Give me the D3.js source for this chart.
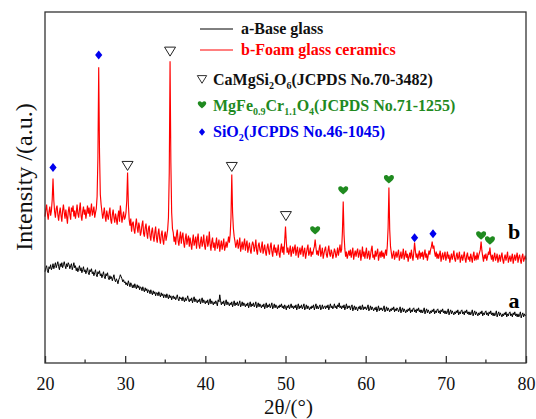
<!doctype html>
<html>
<head>
<meta charset="utf-8">
<title>XRD patterns</title>
<script src="https://cdn.jsdelivr.net/npm/d3@7"></script>
<style>
  body { margin: 0; background: #fff; }
  text { font-family: "Liberation Serif", "Times New Roman", serif; }
</style>
</head>
<body>
<script>
// scan settings: 2theta from 20 to 80, step 0.1
var startAngle = 20, stepAngle = 0.1;

// a - base glass (one row per degree)
var baseGlass = [
  91,95,97,92,90,96,94,98,93,95,
  99,94,97,100,95,98,101,96,93,99,
  96,100,95,98,101,97,94,99,96,100,
  98,94,97,99,93,96,100,95,97,92,
  95,91,94,97,92,95,90,93,96,91,
  93,89,92,95,90,88,93,91,94,89,
  91,87,90,93,88,86,91,89,92,87,
  89,85,88,91,86,84,89,87,90,85,
  83,87,84,86,82,85,88,83,81,84,
  82,79,83,85,88,86,84,81,83,80,
  81,78,80,77,82,79,76,80,78,75,
  78,75,79,76,74,78,75,77,73,76,
  75,72,76,73,71,75,72,74,70,73,
  72,69,73,70,68,72,69,71,67,70,
  70,67,71,68,66,70,67,69,65,68,
  68,65,69,66,64,68,65,67,63,66,
  67,64,66,63,65,68,64,62,66,64,
  65,62,66,63,61,65,62,64,67,63,
  61,64,62,65,60,63,66,61,64,62,
  60,63,61,64,59,62,65,60,63,61,
  59,62,60,63,58,61,64,59,62,60,
  58,61,59,62,60,57,63,61,68,62,
  58,61,59,62,57,60,63,58,61,59,
  57,60,58,61,56,59,62,57,60,58,
  61,57,59,62,56,58,61,57,60,58,
  56,59,57,60,55,58,61,56,59,57,
  60,56,58,61,55,57,60,56,59,57,
  55,58,56,59,54,57,60,55,58,56,
  59,55,57,60,54,56,59,55,58,56,
  54,57,55,58,56,59,55,57,54,58,
  56,53,57,55,58,54,56,59,55,57,
  54,57,55,58,53,56,59,54,57,55,
  58,54,56,59,53,55,58,54,57,55,
  53,56,54,57,55,58,53,56,59,54,
  57,54,56,58,53,55,58,54,56,57,
  54,57,55,58,53,56,59,55,57,54,
  56,59,55,57,54,58,56,60,55,57,
  54,57,55,58,53,56,59,54,57,55,
  57,53,56,58,52,55,57,53,56,54,
  52,56,54,57,53,55,58,53,56,54,
  56,53,55,58,52,54,57,53,56,54,
  52,55,53,56,51,54,57,52,55,53,
  55,52,54,57,51,53,56,52,55,53,
  51,54,52,55,53,56,51,54,52,55,
  54,51,53,56,50,53,55,51,54,52,
  50,53,51,54,52,55,50,53,51,54,
  55,51,53,50,54,52,55,51,53,50,
  53,50,52,55,49,52,54,50,53,51,
  49,52,50,53,51,54,49,52,50,53,
  54,50,52,49,53,51,54,50,52,49,
  52,49,51,54,48,51,53,49,52,50,
  48,51,49,52,50,53,48,51,49,52,
  53,49,51,48,52,50,53,49,51,48,
  51,48,50,53,47,50,52,48,51,49,
  47,50,48,51,49,52,47,50,48,51,
  52,48,50,47,51,49,52,48,50,47,
  50,47,49,52,46,49,51,47,50,48,
  46,49,47,50,48,51,46,49,47,50,
  51,47,49,46,50,48,51,47,49,46,
  49,46,48,51,45,48,50,46,49,47,
  48
];

// b - foam glass ceramics
var foamCeramics = [
  146,153,158,149,143,151,156,147,152,163,
  184,162,151,145,154,157,148,142,150,155,
  147,141,152,158,150,144,153,146,139,151,
  156,148,143,155,151,157,146,152,144,150,
  158,149,145,153,160,147,142,151,156,148,
  153,144,150,157,149,155,146,152,159,147,
  151,156,145,150,154,166,205,295,210,168,
  158,151,144,149,155,146,141,152,147,143,
  150,155,143,139,148,153,145,140,149,144,
  138,147,152,141,157,149,140,146,151,143,
  145,150,162,190,158,143,137,144,131,139,
  141,133,129,138,144,135,130,140,136,127,
  131,138,142,129,126,135,139,130,124,134,
  137,127,122,131,135,126,121,130,136,125,
  120,129,134,124,119,128,132,123,118,127,
  131,122,127,133,145,190,301,200,150,134,
  130,121,126,118,128,133,122,117,125,131,
  119,126,130,120,115,124,129,118,123,127,
  116,125,119,113,122,128,117,121,126,114,
  123,129,118,114,121,126,116,120,128,117,
  113,122,127,116,120,131,118,112,121,125,
  115,120,112,119,125,114,118,123,111,117,
  122,113,118,124,112,116,121,115,120,126,
  120,128,145,188,150,134,126,121,115,119,
  123,114,118,125,111,116,121,113,119,124,
  112,118,122,110,115,120,113,109,117,121,
  118,111,116,123,112,108,117,120,113,110,
  116,121,109,113,118,111,107,115,119,112,
  108,116,120,111,106,114,118,110,115,107,
  112,118,109,105,114,119,110,116,108,122,
  136,121,110,115,108,112,117,106,111,116,
  109,114,118,107,112,116,105,110,115,108,
  113,117,106,111,115,104,109,114,118,107,
  110,115,106,111,108,113,116,123,115,108,
  112,107,114,118,106,110,115,104,109,113,
  116,108,105,112,117,109,106,113,110,104,
  108,114,111,105,109,115,107,112,118,110,
  113,131,161,128,114,106,111,104,108,112,
  107,113,105,110,115,103,108,112,106,111,
  114,105,109,113,102,108,116,106,111,104,
  110,115,104,108,112,103,107,113,117,105,
  108,103,112,106,110,114,102,107,111,105,
  112,106,110,104,109,113,107,117,135,175,
  133,116,110,104,108,112,103,107,111,105,
  109,113,102,106,111,104,108,114,103,107,
  112,105,109,101,106,110,104,113,107,102,
  110,120,112,105,109,103,108,112,104,110,
  106,111,103,108,113,105,109,102,107,112,
  108,113,116,121,114,117,110,106,111,104,
  109,104,108,112,101,106,110,103,107,111,
  102,106,111,104,108,100,105,109,103,107,
  112,104,101,107,110,103,106,111,100,105,
  108,102,106,111,104,100,107,110,103,106,
  101,109,105,100,107,111,102,106,104,110,
  103,107,110,113,121,112,106,101,108,104,
  109,102,106,110,108,115,107,103,108,101,
  106,110,102,105,109,100,104,108,101,106,
  110,103,99,105,108,102,106,111,100,104,
  107,101,105,109,99,104,108,102,106,110,
  100,105,108,103,99,106,109,101,104,107,
  103
];

// phase markers: [2theta, marker height]
var diopsidePeaks = [[30.3, 197], [35.6, 311], [43.3, 196], [50.05, 147]];
var spinelPeaks = [[53.7, 132], [57.2, 172], [62.9, 183], [74.4, 127], [75.5, 122]];
var quartzPeaks = [[21.0, 195], [26.7, 307], [66.1, 125], [68.4, 129]];

var xTicks = [20, 30, 40, 50, 60, 70, 80];
var xMinorTicks = [25, 35, 45, 55, 65, 75];

var width = 536, height = 419;
var plotLeft = 45, plotRight = 526, plotTop = 12, plotBottom = 363;
var green = "#1f8a1f", blue = "#0000ee";

var svg = d3.select("body").append("svg")
  .attr("width", width).attr("height", height);

var x = d3.scaleLinear().domain([20, 80]).range([plotLeft, plotRight]);
var y = d3.scaleLinear().domain([0, 350]).range([plotBottom, plotTop]);

var line = d3.line()
  .x(function (d, i) { return x(startAngle + i * stepAngle); })
  .y(function (d) { return y(d); });

svg.append("path").datum(baseGlass)
  .attr("d", line).attr("fill", "none")
  .attr("stroke", "#000").attr("stroke-width", 1.0);

svg.append("path").datum(foamCeramics)
  .attr("d", line).attr("fill", "none")
  .attr("stroke", "#ff0000").attr("stroke-width", 1.15);

// frame
svg.append("rect")
  .attr("x", plotLeft).attr("y", plotTop)
  .attr("width", plotRight - plotLeft).attr("height", plotBottom - plotTop)
  .attr("fill", "none").attr("stroke", "#333").attr("stroke-width", 1.3);

// bottom axis, ticks pointing inward
var xAxis = svg.append("g").attr("transform", "translate(0," + plotBottom + ")")
  .call(d3.axisBottom(x).tickValues(xTicks).tickSize(-7).tickPadding(14).tickFormat(d3.format("d")));
xAxis.select(".domain").remove();
xAxis.selectAll("line").attr("stroke", "#333").attr("stroke-width", 1.3);
xAxis.selectAll("text").attr("font-size", 18).attr("fill", "#111")
  .style("font-family", '"Liberation Serif", serif');

svg.append("g").selectAll("line").data(xMinorTicks).enter().append("line")
  .attr("x1", function (d) { return x(d); }).attr("x2", function (d) { return x(d); })
  .attr("y1", plotBottom).attr("y2", plotBottom - 3.5)
  .attr("stroke", "#333").attr("stroke-width", 1.3);

svg.append("text")
  .attr("x", (plotLeft + plotRight) / 2 + 3).attr("y", 414)
  .attr("text-anchor", "middle").attr("font-size", 21).attr("fill", "#111")
  .text("2\u03b8/(\u00b0)");

svg.append("text")
  .attr("transform", "translate(32,177) rotate(-90)")
  .attr("text-anchor", "middle").attr("font-size", 24).attr("fill", "#111")
  .text("Intensity /(a.u.)");

// curve labels
svg.append("text").attr("x", 514).attr("y", 239).attr("text-anchor", "middle")
  .attr("font-size", 22).attr("font-weight", "bold").text("b");
svg.append("text").attr("x", 514).attr("y", 308).attr("text-anchor", "middle")
  .attr("font-size", 22).attr("font-weight", "bold").text("a");

// marker shapes
var triPath = "M-5.5,-4 L5.5,-4 L0,5 Z";
var heartPath = "M0,4 C-1,3 -5,0.5 -5,-2 C-5,-4.8 -1.8,-5.2 0,-2.8 C1.8,-5.2 5,-4.8 5,-2 C5,0.5 1,3 0,4 Z";
var diamondPath = "M0,-4.5 L3.6,0 L0,4.5 L-3.6,0 Z";

function drawMarkers(data, path, fill, stroke) {
  svg.append("g").selectAll("path").data(data).enter().append("path")
    .attr("transform", function (d) { return "translate(" + x(d[0]) + "," + y(d[1]) + ")"; })
    .attr("d", path).attr("fill", fill)
    .attr("stroke", stroke).attr("stroke-width", stroke === "none" ? 0 : 1);
}
drawMarkers(diopsidePeaks, triPath, "#fff", "#222");
drawMarkers(spinelPeaks, heartPath, green, "none");
drawMarkers(quartzPeaks, diamondPath, blue, "none");

// legend
var lg = svg.append("g").attr("font-weight", "bold").attr("font-size", 16);
lg.append("line").attr("x1", 200).attr("x2", 233).attr("y1", 29).attr("y2", 29)
  .attr("stroke", "#000").attr("stroke-width", 1);
lg.append("text").attr("x", 241).attr("y", 34).attr("fill", "#111").text("a-Base glass");
lg.append("line").attr("x1", 200).attr("x2", 233).attr("y1", 50).attr("y2", 50)
  .attr("stroke", "#ff0000").attr("stroke-width", 1);
lg.append("text").attr("x", 241).attr("y", 55).attr("fill", "#ff0000").text("b-Foam glass ceramics");

lg.append("path").attr("transform", "translate(202,79) scale(0.85)").attr("d", triPath)
  .attr("fill", "#fff").attr("stroke", "#222").attr("stroke-width", 1.1);
lg.append("path").attr("transform", "translate(202,105) scale(0.85)").attr("d", heartPath).attr("fill", green);
lg.append("path").attr("transform", "translate(202,132) scale(0.85)").attr("d", diamondPath).attr("fill", blue);

// chemical formula with subscripts: parts are [text, isSubscript]
function formula(yPos, color, parts) {
  var t = lg.append("text").attr("x", 213).attr("y", yPos).attr("fill", color);
  var shift = 0;
  parts.forEach(function (p) {
    var s = t.append("tspan").text(p[0]);
    if (p[1]) {
      s.attr("font-size", 10).attr("dy", 4 - shift);
      shift = 4;
    } else {
      if (shift) s.attr("dy", -shift);
      shift = 0;
    }
  });
}
formula(85, "#111", [["CaMgSi"], ["2", 1], ["O"], ["6", 1], ["(JCPDS No.70-3482)"]]);
formula(111, green, [["MgFe"], ["0.9", 1], ["Cr"], ["1.1", 1], ["O"], ["4", 1], ["(JCPDS No.71-1255)"]]);
formula(137, blue, [["SiO"], ["2", 1], ["(JCPDS No.46-1045)"]]);
</script>
</body>
</html>
